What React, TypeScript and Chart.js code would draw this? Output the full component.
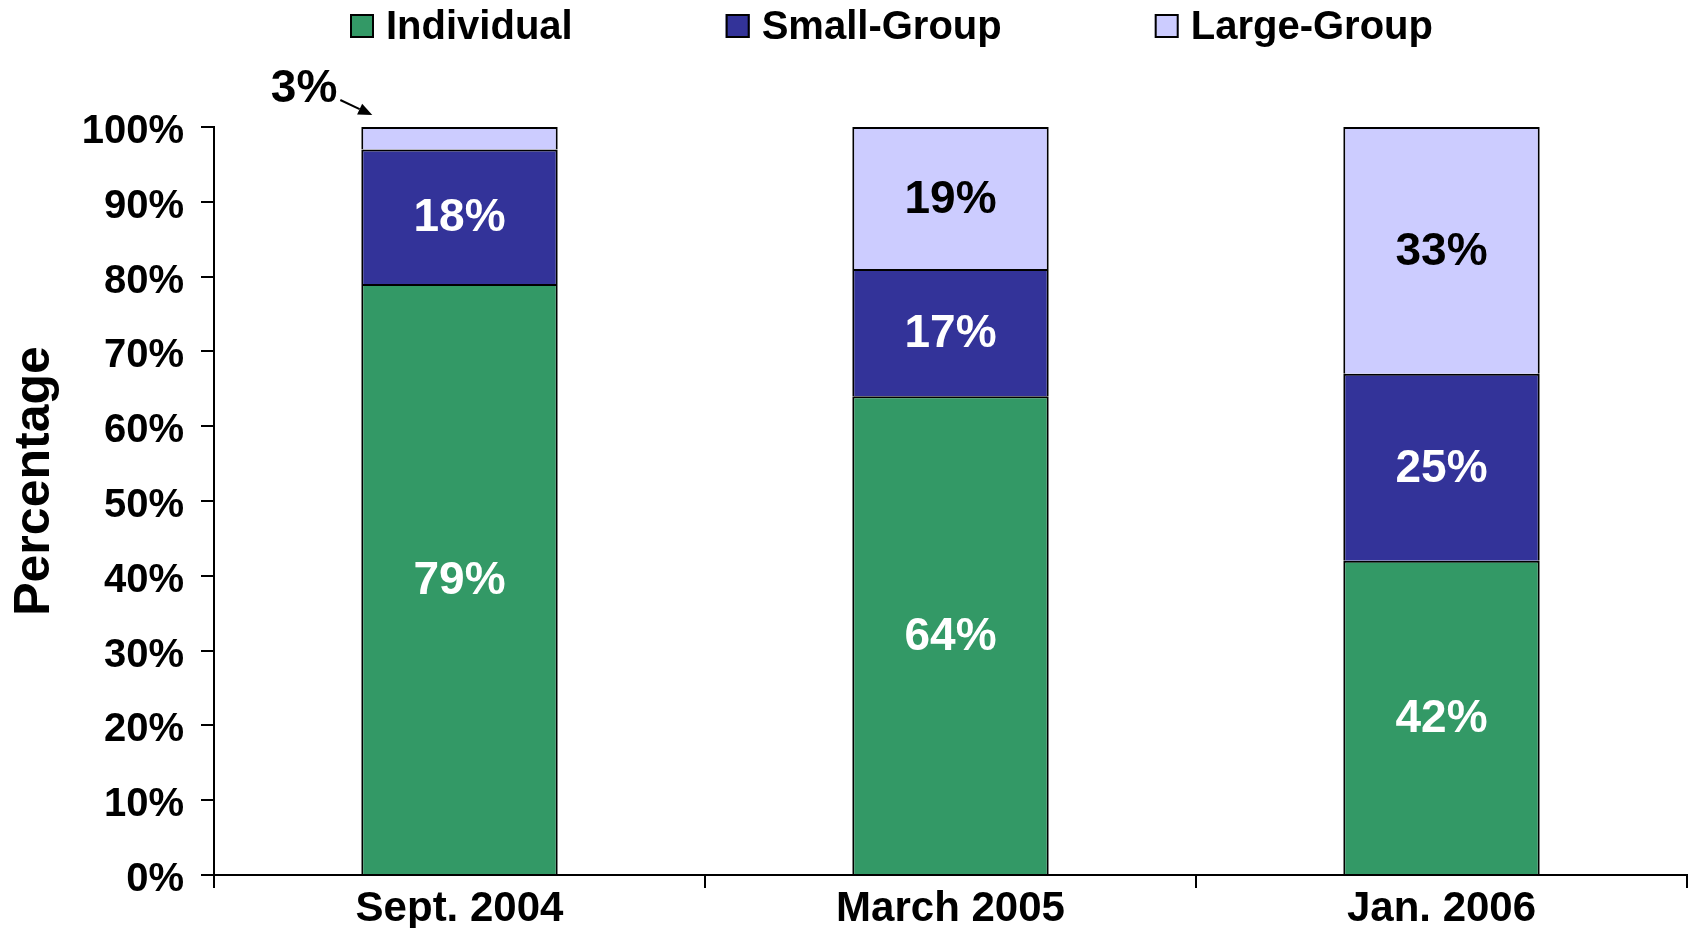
import React, { useEffect, useRef } from 'react';
import { Chart, registerables } from 'chart.js';

Chart.register(...registerables);

const categories = ['Sept. 2004', 'March 2005', 'Jan. 2006'];
const individual = [79, 64, 42];
const smallGroup = [18, 17, 25];
const largeGroup = [3, 19, 33];
const seriesNames = ['Individual', 'Small-Group', 'Large-Group'];
const seriesColors = ['#339966', '#333399', '#CCCCFF'];
const labelColors = ['#FFFFFF', '#FFFFFF', '#000000'];
const axisTitle = 'Percentage';

const FONT = '"Liberation Sans", Arial, Helvetica, sans-serif';

const labelsPlugin = {
  id: 'segLabels',
  afterDatasetsDraw(chart: any) {
    const ctx = chart.ctx;
    ctx.save();
    ctx.font = `bold 46px ${FONT}`;
    ctx.textAlign = 'center';
    ctx.textBaseline = 'middle';
    chart.data.datasets.forEach((ds: any, di: number) => {
      const meta = chart.getDatasetMeta(di);
      meta.data.forEach((bar: any, i: number) => {
        const v = ds.data[i];
        const text = v + '%';
        if (v >= 5) {
          ctx.fillStyle = labelColors[di];
          ctx.fillText(text, bar.x, (bar.y + bar.base) / 2 + 2);
        } else {
          // small value: label outside with an arrow
          const left = bar.x - bar.width / 2;
          const top = bar.y;
          ctx.fillStyle = '#000';
          ctx.textAlign = 'right';
          ctx.fillText(text, left - 24, top - 38);
          ctx.textAlign = 'center';
          const sx = left - 21, sy = top - 27;
          const tx = left + 11, ty = top - 12;
          const ang = Math.atan2(ty - sy, tx - sx);
          const hl = 14, hw = 6;
          const bx = tx - hl * Math.cos(ang), by = ty - hl * Math.sin(ang);
          ctx.strokeStyle = '#000';
          ctx.lineWidth = 2;
          ctx.beginPath();
          ctx.moveTo(sx, sy);
          ctx.lineTo(bx, by);
          ctx.stroke();
          ctx.beginPath();
          ctx.moveTo(tx, ty);
          ctx.lineTo(bx + hw * Math.sin(ang), by - hw * Math.cos(ang));
          ctx.lineTo(bx - hw * Math.sin(ang), by + hw * Math.cos(ang));
          ctx.closePath();
          ctx.fillStyle = '#000';
          ctx.fill();
        }
      });
    });
    ctx.restore();
  },
};

const decorPlugin = {
  id: 'decor',
  afterDraw(chart: any) {
    const ctx = chart.ctx;
    ctx.save();
    // legend
    ctx.font = `bold 40px ${FONT}`;
    ctx.textBaseline = 'middle';
    ctx.textAlign = 'left';
    let x = 350;
    const boxTop = 14;
    const box = 24;
    const gap = 153;
    chart.data.datasets.forEach((ds: any) => {
      ctx.fillStyle = ds.backgroundColor;
      ctx.fillRect(x, boxTop, box, box);
      ctx.strokeStyle = '#000';
      ctx.lineWidth = 2;
      ctx.strokeRect(x + 1, boxTop + 1, box - 2, box - 2);
      ctx.fillStyle = '#000';
      const tx = x + box + 12;
      ctx.fillText(ds.label, tx, boxTop + box / 2 + 2);
      x = tx + ctx.measureText(ds.label).width + gap;
    });
    // y-axis title
    ctx.font = `bold 50px ${FONT}`;
    ctx.textAlign = 'center';
    ctx.translate(35, 481);
    ctx.rotate(-Math.PI / 2);
    ctx.fillText(axisTitle, 0, 0);
    ctx.restore();
  },
};

export default function App() {
  const ref = useRef<HTMLCanvasElement | null>(null);
  useEffect(() => {
    if (!ref.current) return;
    const seriesValues = [individual, smallGroup, largeGroup];
    const chart = new Chart(ref.current, {
      type: 'bar',
      data: {
        labels: categories,
        datasets: seriesNames.map((name, i) => ({
          label: name,
          data: seriesValues[i],
          backgroundColor: seriesColors[i],
          borderColor: '#000',
          borderWidth: 2,
          borderSkipped: 'start',
          barPercentage: 0.4,
          categoryPercentage: 1.0,
        })),
      },
      options: {
        animation: false,
        responsive: false,
        devicePixelRatio: 1,
        layout: { padding: { top: 127, right: 4, left: 0, bottom: 0 } },
        plugins: {
          legend: { display: false },
          tooltip: { enabled: false },
        },
        scales: {
          x: {
            stacked: true,
            ticks: { color: '#000', font: { family: FONT, size: 42, weight: 'bold' }, padding: -4 },
            grid: { offset: true, drawOnChartArea: false, color: '#000', lineWidth: 2, tickLength: 13 },
            border: { color: '#000', width: 2 },
            afterFit: (s: any) => { s.height = 53; },
          },
          y: {
            stacked: true,
            min: 0,
            max: 100,
            ticks: {
              stepSize: 10,
              color: '#000',
              font: { family: FONT, size: 40, weight: 'bold' },
              padding: 17,
              labelOffset: 5,
              callback: (v: any) => v + '%',
            },
            grid: { drawOnChartArea: false, color: '#000', lineWidth: 2, tickLength: 13 },
            border: { color: '#000', width: 2 },
            afterFit: (s: any) => { s.width = 214; },
          },
        },
      } as any,
      plugins: [labelsPlugin, decorPlugin],
    });
    return () => chart.destroy();
  }, []);
  return (
    <div style={{ position: 'absolute', left: 0, top: 0, width: 1691, height: 928, background: '#fff' }}>
      <canvas ref={ref} width={1691} height={928} style={{ display: 'block' }} />
    </div>
  );
}
